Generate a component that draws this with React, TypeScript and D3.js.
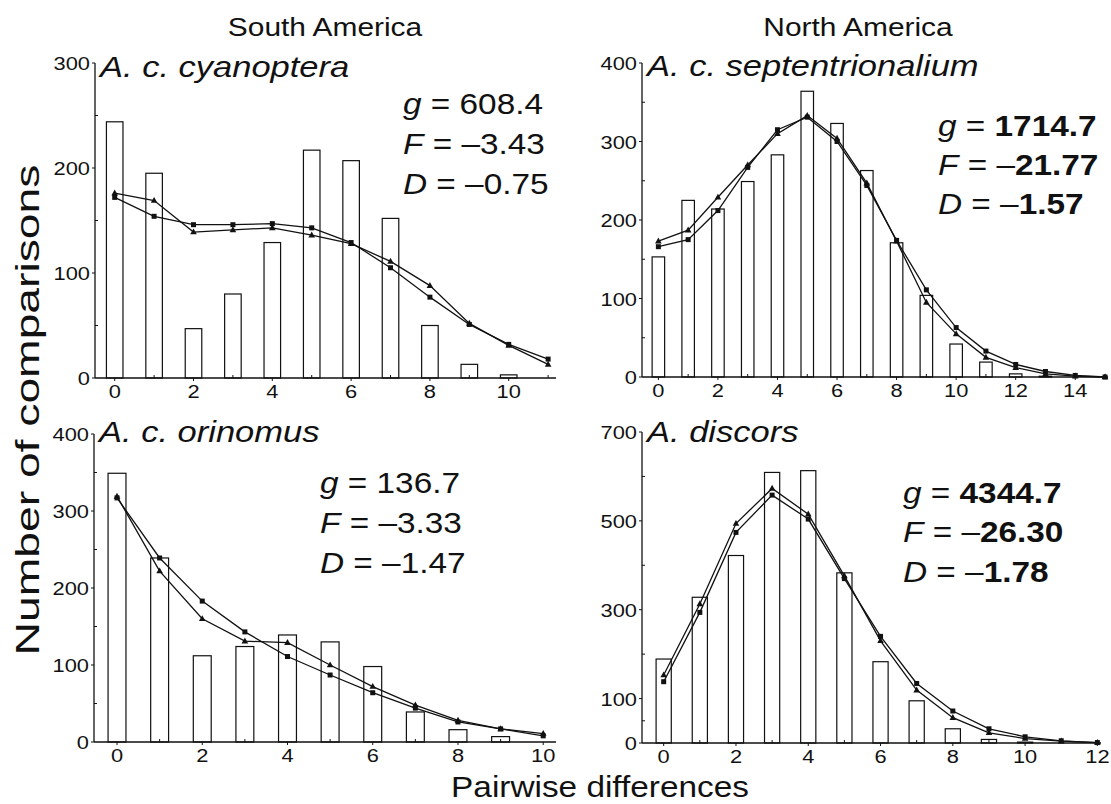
import React from 'react';
import * as d3 from 'd3';

const FONT = '"Liberation Sans", Arial, Helvetica, sans-serif';
const SX = 1.15;

// ---------- data ----------
const cyaDiffs = [0, 1, 2, 3, 4, 5, 6, 7, 8, 9, 10, 11];
const cyaObserved = [244, 195, 47, 80, 129, 217, 207, 152, 50, 13, 3, 0];
const cyaExpA = [176, 169, 139, 141, 143, 136, 128, 111, 88, 52, 31, 13];
const cyaExpB = [172, 154, 146, 146, 147, 143, 129, 105, 77, 51, 32, 18];
const cyaYTicks = [0, 100, 200, 300];
const cyaXTicks = [0, 2, 4, 6, 8, 10];

const sepDiffs = [0, 1, 2, 3, 4, 5, 6, 7, 8, 9, 10, 11, 12, 13, 14, 15];
const sepObserved = [153, 225, 214, 249, 283, 364, 323, 263, 171, 104, 42, 19, 4, 1, 0, 0];
const sepExpA = [173, 187, 229, 270, 310, 333, 304, 247, 173, 95, 55, 25, 12, 4, 1, 0];
const sepExpB = [166, 175, 212, 267, 315, 331, 300, 244, 174, 111, 63, 33, 16, 7, 2, 0];
const sepYTicks = [0, 100, 200, 300, 400];
const sepXTicks = [0, 2, 4, 6, 8, 10, 12, 14];

const oriDiffs = [0, 1, 2, 3, 4, 5, 6, 7, 8, 9, 10];
const oriObserved = [349, 239, 112, 124, 139, 130, 98, 39, 16, 7, 0];
const oriExpA = [319, 222, 160, 131, 129, 100, 72, 48, 28, 17, 11];
const oriExpB = [317, 239, 183, 143, 111, 87, 64, 44, 26, 17, 8];
const oriYTicks = [0, 100, 200, 300, 400];
const oriXTicks = [0, 2, 4, 6, 8, 10];

const disDiffs = [0, 1, 2, 3, 4, 5, 6, 7, 8, 9, 10, 11, 12];
const disObserved = [189, 328, 422, 609, 613, 383, 183, 95, 32, 8, 2, 0, 0];
const disExpA = [153, 313, 494, 573, 515, 376, 230, 119, 57, 23, 10, 4, 1];
const disExpB = [138, 294, 474, 558, 504, 370, 240, 134, 72, 32, 14, 5, 1];
const disYTicks = [0, 100, 300, 500, 700];
const disXTicks = [0, 2, 4, 6, 8, 10, 12];

const regionTitles = ['South America', 'North America'];
const taxonNames = ['A. c. cyanoptera', 'A. c. septentrionalium', 'A. c. orinomus', 'A. discors'];
const statLetters = ['g', 'F', 'D'];
const cyaStats = ['608.4', '–3.43', '–0.75'];
const sepStats = ['1714.7', '–21.77', '–1.57'];
const oriStats = ['136.7', '–3.33', '–1.47'];
const disStats = ['4344.7', '–26.30', '–1.78'];
const xAxisTitle = 'Pairwise differences';
const yAxisTitle = 'Number of comparisons';

// ---------- layout ----------
const panels = [
  {
    diffs: cyaDiffs, obs: cyaObserved, a: cyaExpA, b: cyaExpB, yTicks: cyaYTicks, xTicks: cyaXTicks,
    name: taxonNames[0], stats: cyaStats, bold: false,
    left: 95, right: 556, xDomain: [-0.5, 11.2], base: 378, top: 63, yMax: 300,
    statX: 403, statY: [114, 154, 194], titleY: 77,
  },
  {
    diffs: sepDiffs, obs: sepObserved, a: sepExpA, b: sepExpB, yTicks: sepYTicks, xTicks: sepXTicks,
    name: taxonNames[1], stats: sepStats, bold: true,
    left: 642, right: 1108, xDomain: [-0.55, 15.1], base: 377, top: 63, yMax: 400,
    statX: 938, statY: [136, 175, 214], titleY: 76,
  },
  {
    diffs: oriDiffs, obs: oriObserved, a: oriExpA, b: oriExpB, yTicks: oriYTicks, xTicks: oriXTicks,
    name: taxonNames[2], stats: oriStats, bold: false,
    left: 94, right: 556, xDomain: [-0.54, 10.3], base: 742, top: 434, yMax: 400,
    statX: 320, statY: [493, 533, 573], titleY: 442,
  },
  {
    diffs: disDiffs, obs: disObserved, a: disExpA, b: disExpB, yTicks: disYTicks, xTicks: disXTicks,
    name: taxonNames[3], stats: disStats, bold: true,
    left: 642, right: 1101, xDomain: [-0.6, 12.1], base: 743, top: 432, yMax: 700,
    statX: 903, statY: [503, 542, 582], titleY: 442,
  },
];

function SText(props: any) {
  const { x, y, size, anchor = 'start', italic, weight, children } = props;
  return (
    <text
      transform={`translate(${x},${y}) scale(${SX},1)`}
      fontSize={size}
      textAnchor={anchor}
      fontStyle={italic ? 'italic' : 'normal'}
      fontWeight={weight || 'normal'}
      fontFamily={FONT}
      fill="#111"
    >
      {children}
    </text>
  );
}

function Panel({ p }: { p: any }) {
  const x = d3.scaleLinear().domain(p.xDomain).range([p.left, p.right]);
  const y = d3.scaleLinear().domain([0, p.yMax]).range([p.base, p.top]);
  const bw = x(0.42) - x(0);
  const curve = d3.line<number>().x((_, i) => x(p.diffs[i])).y((d) => y(d));
  const yMinor = p.yTicks.slice(0, -1).map((t: number, i: number) => (t + p.yTicks[i + 1]) / 2);
  const xMinor = p.diffs.filter((d: number) => d % 2 === 1);
  return (
    <g>
      {p.obs.map((v: number, i: number) =>
        v > 0 ? (
          <rect key={i} x={x(p.diffs[i]) - bw / 2} y={y(v)} width={bw} height={y(0) - y(v)}
            fill="#fff" stroke="#111" strokeWidth={1.2} />
        ) : null
      )}
      <line x1={p.left} x2={p.left} y1={p.top} y2={p.base} stroke="#111" strokeWidth={1.3} />
      <line x1={p.left} x2={p.right} y1={p.base} y2={p.base} stroke="#111" strokeWidth={1.3} />
      {p.yTicks.map((t: number) => (
        <g key={'yt' + t}>
          <line x1={p.left - 3} x2={p.left} y1={y(t)} y2={y(t)} stroke="#111" strokeWidth={1} />
          <SText x={p.left - 5} y={y(t) + 7} size={19} anchor="end">{t}</SText>
        </g>
      ))}
      {yMinor.map((t: number) => (
        <line key={'ym' + t} x1={p.left} x2={p.left + 3} y1={y(t)} y2={y(t)} stroke="#111" strokeWidth={1} />
      ))}
      {p.xTicks.map((t: number) => (
        <g key={'xt' + t}>
          <line x1={x(t)} x2={x(t)} y1={p.base} y2={p.base + 3} stroke="#111" strokeWidth={1} />
          <SText x={x(t)} y={p.base + 20} size={19} anchor="middle">{t}</SText>
        </g>
      ))}
      {xMinor.map((t: number) => (
        <line key={'xm' + t} x1={x(t)} x2={x(t)} y1={p.base} y2={p.base - 3} stroke="#111" strokeWidth={1} />
      ))}
      <path d={curve(p.a) || ''} fill="none" stroke="#111" strokeWidth={1.3} />
      <path d={curve(p.b) || ''} fill="none" stroke="#111" strokeWidth={1.3} />
      {p.a.map((v: number, i: number) => (
        <path key={'ma' + i} transform={`translate(${x(p.diffs[i])},${y(v)})`}
          d="M0,-3.6L3.3,2.3L-3.3,2.3Z" fill="#111" />
      ))}
      {p.b.map((v: number, i: number) => (
        <rect key={'mb' + i} x={x(p.diffs[i]) - 2.5} y={y(v) - 2.5} width={5} height={5} fill="#111" />
      ))}
      <SText x={p.left + 5} y={p.titleY} size={30} italic>{p.name}</SText>
      {p.stats.map((s: string, i: number) => {
        const neg = s.startsWith('–');
        const num = neg ? s.slice(1) : s;
        return (
          <SText key={'st' + i} x={p.statX} y={p.statY[i]} size={29}>
            <tspan fontStyle="italic">{statLetters[i]}</tspan>
            <tspan>{' = '}</tspan>
            {neg ? <tspan>–</tspan> : null}
            <tspan fontWeight={p.bold ? 'bold' : 'normal'}>{num}</tspan>
          </SText>
        );
      })}
    </g>
  );
}

export default function App() {
  return (
    <svg width={1111} height={804} style={{ position: 'absolute', left: 0, top: 0, background: '#fff' }}>
      <rect x={0} y={0} width={1111} height={804} fill="#fff" />
      <SText x={325} y={36} size={26} anchor="middle">{regionTitles[0]}</SText>
      <SText x={858} y={36} size={26} anchor="middle">{regionTitles[1]}</SText>
      {panels.map((p, i) => (
        <Panel key={i} p={p} />
      ))}
      <SText x={600} y={797} size={29} anchor="middle">{xAxisTitle}</SText>
      <text transform="translate(39,410) rotate(-90) scale(1.36,1)" fontSize={34} textAnchor="middle"
        fontFamily={FONT} fill="#111">{yAxisTitle}</text>
    </svg>
  );
}
